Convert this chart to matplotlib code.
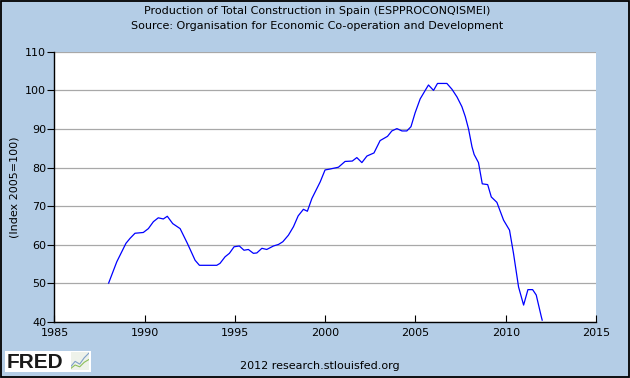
import matplotlib
matplotlib.use("Agg")
import matplotlib.pyplot as plt
from matplotlib.patches import Rectangle

# values (fractional year, index 2005=100)
years = [
    1988.00, 1988.45, 1988.96, 1989.19, 1989.46, 1989.92, 1990.20, 1990.48,
    1990.75, 1991.03, 1991.25, 1991.55, 1991.96, 1992.36, 1992.79, 1993.03,
    1993.99, 1994.17, 1994.45, 1994.69, 1994.95, 1995.24, 1995.50, 1995.74,
    1996.02, 1996.21, 1996.49, 1996.76, 1997.13, 1997.41, 1997.65, 1997.96,
    1998.24, 1998.50, 1998.79, 1999.01, 1999.26, 1999.72, 1999.99, 2000.23,
    2000.73, 2001.10, 2001.50, 2001.75, 2002.03, 2002.31, 2002.70, 2003.04,
    2003.45, 2003.69, 2003.97, 2004.25, 2004.52, 2004.75, 2004.98, 2005.26,
    2005.59, 2005.72, 2006.00, 2006.22, 2006.74, 2007.02, 2007.30, 2007.57,
    2007.76, 2007.94, 2008.13, 2008.25, 2008.49, 2008.70, 2009.00, 2009.20,
    2009.51, 2009.88, 2010.21, 2010.43, 2010.71, 2010.99, 2011.23, 2011.49,
    2011.69, 2011.97, 2012.02,
]
index_values = [
    50.1, 55.6, 60.4, 61.7, 63.0, 63.2, 64.2, 66.0,
    67.0, 66.7, 67.4, 65.5, 64.2, 60.4, 56.0, 54.7,
    54.7, 55.2, 56.9, 57.8, 59.5, 59.7, 58.6, 58.8,
    57.8, 57.9, 59.1, 58.8, 59.7, 60.1, 60.8, 62.5,
    64.7, 67.5, 69.2, 68.7, 72.0, 76.3, 79.4, 79.6,
    80.1, 81.6, 81.7, 82.6, 81.3, 83.0, 83.8, 87.0,
    88.1, 89.5, 90.1, 89.5, 89.5, 90.6, 94.2, 97.8,
    100.4, 101.4, 100.0, 101.8, 101.8, 100.3, 98.3, 95.8,
    93.2, 90.0, 85.4, 83.4, 81.3, 75.8, 75.6, 72.4,
    71.0, 66.4, 63.8, 57.8, 49.1, 44.4, 48.4, 48.4,
    47.0, 41.4, 40.5,
]
x_ticks = [1985, 1990, 1995, 2000, 2005, 2010, 2015]
y_ticks = [40, 50, 60, 70, 80, 90, 100, 110]

bg = "#b4cde6"
plt.rcParams["font.family"] = ["DejaVu Sans"]

fig = plt.figure(figsize=(6.3, 3.78), dpi=100, facecolor=bg)
ax = fig.add_axes([0.0865, 0.148, 0.8595, 0.715])
ax.set_facecolor("white")

ax.plot(years, index_values, color="#0000ff", linewidth=0.9)

ax.set_xlim(1985, 2015)
ax.set_ylim(40, 110)
ax.set_xticks(x_ticks)
ax.set_yticks(y_ticks)
ax.grid(axis="y", color="#a8a8a8", linewidth=0.9)
ax.set_axisbelow(True)

ax.tick_params(axis="x", direction="in", length=5, width=0.8, pad=4,
               labelsize=8, colors="black")
ax.tick_params(axis="y", direction="out", length=5, width=0.8, pad=1,
               labelsize=8, colors="black")
for side in ["top", "right"]:
    ax.spines[side].set_visible(False)
for side in ["left", "bottom"]:
    ax.spines[side].set_color("black")
    ax.spines[side].set_linewidth(1.0)

ax.set_ylabel("(Index 2005=100)", fontsize=8)
ax.yaxis.set_label_coords(-0.064, 0.5)

fig.text(0.503, 0.971, "Production of Total Construction in Spain (ESPPROCONQISMEI)",
         ha="center", va="center", fontsize=8)
fig.text(0.503, 0.931, "Source: Organisation for Economic Co-operation and Development",
         ha="center", va="center", fontsize=8)
fig.text(0.508, 0.033, "2012 research.stlouisfed.org",
         ha="center", va="center", fontsize=8)

# FRED logo box
fig.patches.append(Rectangle((0.008, 0.015), 0.136, 0.056, transform=fig.transFigure,
                             facecolor="white", edgecolor="none", zorder=0.5))
fig.text(0.010, 0.042, "FRED", ha="left", va="center", fontsize=15,
         fontweight="bold", color="#1a1a1a", family="Liberation Sans")
icon = fig.add_axes([0.112, 0.020, 0.029, 0.048])
icon.set_zorder(2)
icon.set_facecolor("#eef2ea")
icon.plot([0, 1, 2, 3, 4], [0.2, 0.5, 0.35, 0.7, 0.95], color="#7fa0c8", linewidth=0.8)
icon.plot([0, 1, 2, 3, 4], [0.1, 0.3, 0.2, 0.45, 0.6], color="#8cbf5a", linewidth=0.8)
icon.set_xlim(0, 4)
icon.set_ylim(0, 1)
icon.set_xticks([])
icon.set_yticks([])
for s in icon.spines.values():
    s.set_visible(False)

# outer frame
fig.patches.append(Rectangle((0.0015, 0.0025), 0.997, 0.995, transform=fig.transFigure,
                             facecolor="none", edgecolor="black", linewidth=1.3))

fig.savefig("out.png", dpi=100, facecolor=bg)
